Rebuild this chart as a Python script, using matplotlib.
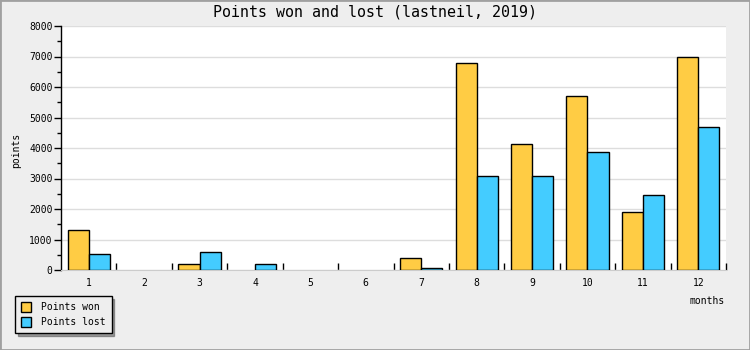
import matplotlib
matplotlib.use("Agg")
import matplotlib.pyplot as plt
import numpy as np
from matplotlib.patches import Rectangle

months = [1, 2, 3, 4, 5, 6, 7, 8, 9, 10, 11, 12]
points_won = [1300, 0, 200, 0, 0, 0, 390, 6800, 4120, 5720, 1900, 7000]
points_lost = [520, 0, 590, 200, 0, 0, 70, 3080, 3080, 3870, 2460, 4680]
yticks = [0, 1000, 2000, 3000, 4000, 5000, 6000, 7000, 8000]

plt.rcParams['font.family'] = ['DejaVu Sans Mono']

fig = plt.figure(figsize=(7.5, 3.5), dpi=100, facecolor='#EEEEEE')
fig.patches.append(Rectangle((0, 0), 1, 1, transform=fig.transFigure, fill=False,
                             edgecolor='#A0A0A0', linewidth=2, zorder=10))
ax = fig.add_axes([61/750, 1-270/350, 665/750, 244/350])
ax.set_facecolor('white')

x = np.arange(len(months)) + 1
w = 0.38
won_bars = ax.bar(x - w/2, points_won, w, color='#FFCC44', edgecolor='black', linewidth=1,
                  label='Points won', zorder=3)
lost_bars = ax.bar(x + w/2, points_lost, w, color='#44CCFF', edgecolor='black', linewidth=1,
                   label='Points lost', zorder=3)
for bars, vals in ((won_bars, points_won), (lost_bars, points_lost)):
    for b, v in zip(bars, vals):
        if v == 0:
            b.set_visible(False)

ax.set_xlim(0.5, 12.5)
ax.set_ylim(0, 8000)
ax.set_yticks(yticks)
ax.set_yticklabels([str(v) for v in yticks], fontsize=7)
ax.set_yticks(np.arange(500, 8000, 1000), minor=True)
ax.yaxis.grid(True, color='#DDDDDD', linewidth=1, zorder=0)
ax.tick_params(axis='y', which='major', length=5, width=1, direction='out', pad=1)
ax.tick_params(axis='y', which='minor', length=3, width=1, direction='out')

ax.set_xticks(x)
ax.set_xticklabels([str(m) for m in months], fontsize=7)
ax.set_xticks(np.arange(1.5, 13, 1), minor=True)
ax.tick_params(axis='x', which='major', length=0, pad=6)
ax.tick_params(axis='x', which='minor', length=5, width=1, direction='in')

for s in ['top', 'right']:
    ax.spines[s].set_visible(False)
ax.spines['left'].set_linewidth(1)
ax.spines['bottom'].set_color('#CCCCCC')

fig.text(0.5, 1-12/350, 'Points won and lost (lastneil, 2019)', ha='center', va='center',
         fontsize=10.8)
fig.text(16/750, 1-150/350, 'points', rotation=90, ha='center', va='center', fontsize=7)
fig.text(707/750, 1-301/350, 'months', ha='center', va='center', fontsize=7)

leg = ax.legend(loc='lower left', bbox_to_anchor=(15/750, 1-333/350), bbox_transform=fig.transFigure,
                fontsize=7, frameon=True, fancybox=False, shadow=True, edgecolor='black',
                facecolor='#EEEEEE', framealpha=1, handlelength=1.0, handleheight=1.3,
                borderpad=0.6, labelspacing=0.45, handletextpad=1.1, borderaxespad=0)
leg.get_frame().set_linewidth(1)

fig.savefig('out.png', dpi=100, facecolor=fig.get_facecolor())
